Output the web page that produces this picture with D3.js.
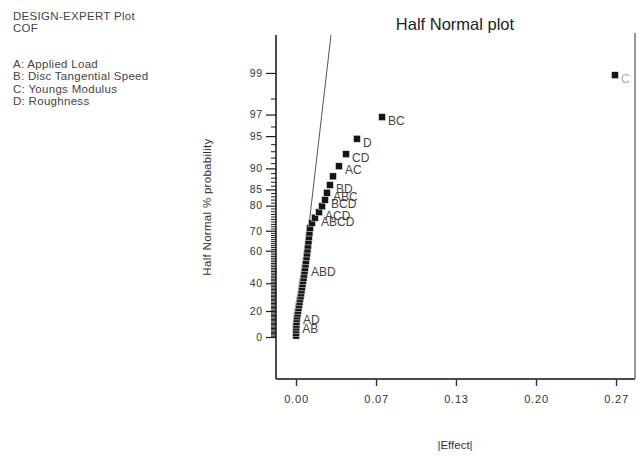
<!DOCTYPE html>
<html>
<head>
<meta charset="utf-8">
<script src="https://cdn.jsdelivr.net/npm/d3@7"></script>
<style>
  html, body { margin: 0; padding: 0; background: #fff; }
  svg { display: block; font-family: Arial, "Liberation Sans", sans-serif; }
</style>
</head>
<body>
<svg id="chart" width="638" height="456"></svg>
<script>
// ---------------- data ----------------
const headerLines = ["DESIGN-EXPERT Plot", "COF"];
const factorLines = ["A: Applied Load", "B: Disc Tangential Speed", "C: Youngs Modulus", "D: Roughness"];
const chartTitle = "Half Normal plot";
const xTitle = "|Effect|";
const yTitle = "Half Normal % probability";

// |Effect| values, sorted ascending (rank 1..47)
const effects = [0.0000, 0.0001, 0.0001, 0.0002, 0.0003, 0.0004, 0.0006, 0.0008, 0.0013, 0.0017,
                 0.0021, 0.0025, 0.0029, 0.0033, 0.0038, 0.0042, 0.0046, 0.0050, 0.0054, 0.0058,
                 0.0063, 0.0067, 0.0071, 0.0075, 0.0079, 0.0083, 0.0088, 0.0092, 0.0096, 0.0100,
                 0.0104, 0.0108, 0.0112, 0.0117, 0.0133, 0.0158, 0.0192, 0.0217, 0.0242, 0.0258,
                 0.0283, 0.0308, 0.0358, 0.0417, 0.0508, 0.0717, 0.2658];
// term labels per rank (empty = error estimate)
const termLabels = ["", "", "", "", "AB", "", "", "AD", "", "",
                    "", "", "", "", "", "", "", "", "", "",
                    "", "", "", "ABD", "", "", "", "", "", "",
                    "", "", "", "", "", "ABCD", "ACD", "", "BCD", "ABC",
                    "BD", "", "AC", "CD", "D", "BC", "C"];

const xTickValues = [0, 0.0667, 0.1333, 0.2, 0.2667];
const xTickLabels = ["0.00", "0.07", "0.13", "0.20", "0.27"];
const yMajorTicks = [0, 20, 40, 60, 70, 80, 85, 90, 95, 97, 99];
const yMinorTicks = d3.range(1, 99).filter(v => !yMajorTicks.includes(v));
const fitSlope = 0.0099; // |Effect| per half-normal quantile unit for the reference line

// ---------------- helpers ----------------
function qnorm(p) { // Acklam inverse normal CDF
  const a=[-3.969683028665376e+01,2.209460984245205e+02,-2.759285104469687e+02,1.383577518672690e+02,-3.066479806614716e+01,2.506628277459239e+00];
  const b=[-5.447609879822406e+01,1.615858368580409e+02,-1.556989798598866e+02,6.680131188771972e+01,-1.328068155288572e+01];
  const c=[-7.784894002430293e-03,-3.223964580411365e-01,-2.400758277161838e+00,-2.549732539343734e+00,4.374664141464968e+00,2.938163982698783e+00];
  const d=[7.784695709041462e-03,3.224671290700398e-01,2.445134137142996e+00,3.754408661907416e+00];
  const pl = 0.02425, ph = 1 - pl;
  let q, r;
  if (p < pl) { q = Math.sqrt(-2*Math.log(p)); return (((((c[0]*q+c[1])*q+c[2])*q+c[3])*q+c[4])*q+c[5])/((((d[0]*q+d[1])*q+d[2])*q+d[3])*q+1); }
  if (p <= ph) { q = p - 0.5; r = q*q; return (((((a[0]*r+a[1])*r+a[2])*r+a[3])*r+a[4])*r+a[5])*q/(((((b[0]*r+b[1])*r+b[2])*r+b[3])*r+b[4])*r+1); }
  q = Math.sqrt(-2*Math.log(1-p)); return -(((((c[0]*q+c[1])*q+c[2])*q+c[3])*q+c[4])*q+c[5])/((((d[0]*q+d[1])*q+d[2])*q+d[3])*q+1);
}
const halfZ = pct => qnorm(0.5 + pct / 200);

// ---------------- layout ----------------
const plot = { left: 276, right: 635, top: 35, bottom: 379 };
const x = d3.scaleLinear().domain([-0.01667, 0.2825]).range([plot.left, plot.right]);
const y = d3.scaleLinear().domain([-0.4098, 2.946]).range([plot.bottom, plot.top]);

const n = effects.length;
const points = effects.map((e, i) => ({
  effect: e,
  pct: 100 * (i + 0.5) / n,
  label: termLabels[i]
}));

const svg = d3.select("#chart");
const ink = "#1a1a1a";

// header text
const hdr = svg.append("g").attr("fill", "#444").attr("font-size", 11.5).attr("letter-spacing", 0.3);
headerLines.forEach((t, i) => hdr.append("text").attr("x", 13).attr("y", 20 + i * 12).text(t));
factorLines.forEach((t, i) => hdr.append("text").attr("x", 13).attr("y", 68 + i * 12.3).text(t));

// title
svg.append("text").attr("x", 455).attr("y", 30).attr("text-anchor", "middle")
  .attr("font-size", 16.5).attr("fill", "#222").text(chartTitle);

// clip
svg.append("clipPath").attr("id", "clip").append("rect")
  .attr("x", plot.left).attr("y", plot.top)
  .attr("width", plot.right - plot.left).attr("height", plot.bottom - plot.top);

// frame
svg.append("line").attr("x1", plot.left).attr("x2", plot.left).attr("y1", plot.top).attr("y2", plot.bottom)
  .attr("stroke", "#111").attr("stroke-width", 1.5);
svg.append("line").attr("x1", plot.left).attr("x2", plot.right).attr("y1", plot.bottom).attr("y2", plot.bottom)
  .attr("stroke", "#111").attr("stroke-width", 1.5);
svg.append("line").attr("x1", plot.right).attr("x2", plot.right).attr("y1", plot.top - 2).attr("y2", plot.bottom)
  .attr("stroke", "#777").attr("stroke-width", 1.5);

// y axis (half-normal probability)
const yAxisMajor = d3.axisLeft(y).tickValues(yMajorTicks.map(halfZ))
  .tickFormat((d, i) => yMajorTicks[i]).tickSize(10).tickPadding(3);
const gy = svg.append("g").attr("transform", `translate(${plot.left},0)`).call(yAxisMajor);
gy.select(".domain").remove();
gy.selectAll("line").attr("stroke", ink).attr("stroke-width", 1.2);
gy.selectAll("text").attr("font-size", 10.5).attr("fill", "#333").attr("letter-spacing", 0.8)
  .attr("font-family", "Arial, 'Liberation Sans', sans-serif");

const yAxisMinor = d3.axisLeft(y).tickValues(yMinorTicks.map(halfZ)).tickFormat("").tickSize(5);
const gym = svg.append("g").attr("transform", `translate(${plot.left},0)`).call(yAxisMinor);
gym.select(".domain").remove();
gym.selectAll("line").attr("stroke", ink).attr("stroke-width", 1);

// x axis
const xAxis = d3.axisBottom(x).tickValues(xTickValues).tickFormat((d, i) => xTickLabels[i])
  .tickSize(7).tickPadding(9);
const gx = svg.append("g").attr("transform", `translate(0,${plot.bottom})`).call(xAxis);
gx.select(".domain").remove();
gx.selectAll("line").attr("stroke", "#333").attr("stroke-width", 1.4);
gx.selectAll("text").attr("font-size", 11).attr("fill", "#333").attr("letter-spacing", 0.8)
  .attr("font-family", "Arial, 'Liberation Sans', sans-serif");

// axis titles
svg.append("text").attr("x", 455).attr("y", 449).attr("text-anchor", "middle")
  .attr("font-size", 11.5).attr("fill", "#333").text(xTitle);
svg.append("text").attr("transform", "translate(211,207) rotate(-90)").attr("text-anchor", "middle")
  .attr("font-size", 11.5).attr("fill", "#333").attr("letter-spacing", 0.3).text(yTitle);

// reference line
const zTop = y.domain()[1];
svg.append("line").attr("clip-path", "url(#clip)")
  .attr("x1", x(0)).attr("y1", y(0))
  .attr("x2", x(fitSlope * zTop)).attr("y2", y(zTop))
  .attr("stroke", "#555").attr("stroke-width", 1);

// points
const s = 7;
svg.append("g").attr("clip-path", "url(#clip)").selectAll("rect").data(points).join("rect")
  .attr("x", d => x(d.effect) - s / 2).attr("y", d => y(halfZ(d.pct)) - s / 2)
  .attr("width", s).attr("height", s).attr("fill", "#151515")
  .attr("stroke", "#fff").attr("stroke-width", 0.7).attr("stroke-opacity", 0.7);

// labels
svg.append("g").attr("clip-path", "url(#clip)").selectAll("text").data(points.filter(d => d.label)).join("text")
  .attr("x", d => x(d.effect) + 6).attr("y", d => y(halfZ(d.pct)) + 8)
  .attr("font-size", 12).attr("fill", d => d.label === "C" ? "#aaa" : "#444")
  .text(d => d.label);
</script>
</body>
</html>
